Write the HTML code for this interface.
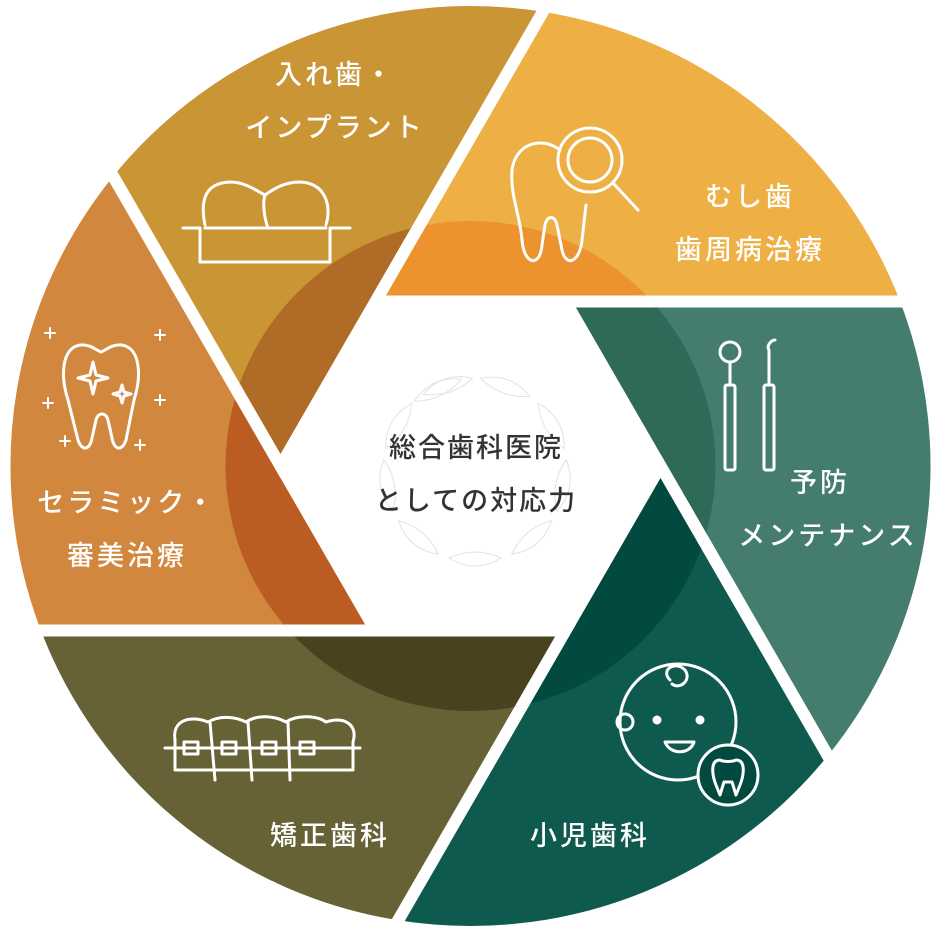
<!DOCTYPE html>
<html><head><meta charset="utf-8"><style>
html,body{margin:0;padding:0;background:#fff;width:941px;height:932px;overflow:hidden}
svg{display:block}
text{font-family:"Liberation Sans","Noto Sans CJK JP",sans-serif}
</style></head><body>
<svg width="941" height="932" viewBox="0 0 941 932" xmlns="http://www.w3.org/2000/svg">
<defs>
<clipPath id="ic"><circle cx="470.5" cy="466" r="245"/></clipPath>
</defs>
<g stroke="#fff" stroke-width="12" stroke-linejoin="miter">
<path d="M375.5 301.5 L546 6.2 A466 466 0 0 1 906.5 301.5 Z" fill="#eeaf44"/>
<path d="M565.5 301.5 L906.5 301.5 A466 466 0 0 1 831 761.3 Z" fill="#447d6d"/>
<path d="M660.5 466 L831 761.3 A466 466 0 0 1 395 925.8 Z" fill="#0f5a4f"/>
<path d="M565.5 630.5 L395 925.8 A466 466 0 0 1 34.5 630.5 Z" fill="#676236"/>
<path d="M375.5 630.5 L34.5 630.5 A466 466 0 0 1 110 170.7 Z" fill="#d1873e"/>
<path d="M280.5 466 L110 170.7 A466 466 0 0 1 546 6.2 Z" fill="#c99535"/>
</g>
<g clip-path="url(#ic)" stroke="#fff" stroke-width="12">
<path d="M375.5 301.5 L546 6.2 A466 466 0 0 1 906.5 301.5 Z" fill="#ec9330"/>
<path d="M565.5 301.5 L906.5 301.5 A466 466 0 0 1 831 761.3 Z" fill="#2f6a59"/>
<path d="M660.5 466 L831 761.3 A466 466 0 0 1 395 925.8 Z" fill="#02493f"/>
<path d="M565.5 630.5 L395 925.8 A466 466 0 0 1 34.5 630.5 Z" fill="#48421f"/>
<path d="M375.5 630.5 L34.5 630.5 A466 466 0 0 1 110 170.7 Z" fill="#bb5d22"/>
<path d="M280.5 466 L110 170.7 A466 466 0 0 1 546 6.2 Z" fill="#b06b27"/>
</g>
<!-- wreath -->
<g fill="none" stroke="#e2e2e2" stroke-width="1">
<g transform="translate(475,470)">
<path d="M-26 -88 Q0 -104 26 -88 Q0 -76 -26 -88 Z" transform="rotate(-18)"/>
<path d="M-26 -88 Q0 -104 26 -88 Q0 -76 -26 -88 Z" transform="rotate(20)"/>
<path d="M-26 -88 Q0 -104 26 -88 Q0 -76 -26 -88 Z" transform="rotate(60)"/>
<path d="M-26 -88 Q0 -104 26 -88 Q0 -76 -26 -88 Z" transform="rotate(100)"/>
<path d="M-26 -88 Q0 -104 26 -88 Q0 -76 -26 -88 Z" transform="rotate(140)"/>
<path d="M-26 -88 Q0 -104 26 -88 Q0 -76 -26 -88 Z" transform="rotate(180)"/>
<path d="M-26 -88 Q0 -104 26 -88 Q0 -76 -26 -88 Z" transform="rotate(220)"/>
<path d="M-26 -88 Q0 -104 26 -88 Q0 -76 -26 -88 Z" transform="rotate(260)"/>
<path d="M-26 -88 Q0 -104 26 -88 Q0 -76 -26 -88 Z" transform="rotate(300)"/>
<path d="M-26 -88 Q0 -104 26 -88 Q0 -76 -26 -88 Z" transform="rotate(335)"/>
</g></g>
<g fill="#333" font-size="27" text-anchor="middle" letter-spacing="2" font-weight="500">
<text x="476" y="457">総合歯科医院</text>
<text x="476" y="510">としての対応力</text>
</g>
<g fill="#fff" font-size="27" text-anchor="middle" letter-spacing="3" font-weight="500">
<text x="335" y="84">入れ歯・</text>
<text x="335" y="137">インプラント</text>
<text x="750" y="206">むし歯</text>
<text x="750" y="259">歯周病治療</text>
<text x="820" y="492">予防</text>
<text x="828" y="545">メンテナンス</text>
<text x="590" y="845">小児歯科</text>
<text x="330" y="845">矯正歯科</text>
<text x="127" y="512">セラミック・</text>
<text x="127" y="565">審美治療</text>
</g>
<!-- icons -->
<g fill="none" stroke="#fff" stroke-width="3" stroke-linecap="round" stroke-linejoin="round">
<path d="M205 225 C200 200 205 183 230 182 C245 182 255 190 265 195 C275 188 285 182 300 182 C325 183 332 205 326 225"/>
<path d="M265 195 C262 205 265 220 268 228"/>
<path d="M183 228 L200 228 L200 262 L330 262 L330 228 L350 228"/>
<path d="M205 228 L326 228"/>
<path d="M560 150 C540 135 515 145 512 170 C510 195 520 215 522 240 C524 265 540 268 542 245 L545 225 C547 215 555 215 557 225 L562 250 C566 268 580 262 582 240 L586 205"/>
<circle cx="590" cy="160" r="32"/><circle cx="590" cy="160" r="22"/>
<path d="M613 183 L638 210"/>
<rect x="725" y="385" width="10" height="85" rx="2"/><rect x="764" y="385" width="10" height="85" rx="2"/>
<path d="M730 385 L730 362"/><circle cx="730" cy="352" r="10"/>
<path d="M769 385 L769 350 C766 345 772 340 775 340"/>
<circle cx="678" cy="722" r="58"/>
<path d="M670 680 C660 670 675 660 685 670 C692 680 680 690 672 684"/>
<circle cx="657" cy="720" r="3" fill="#fff"/><circle cx="700" cy="720" r="3" fill="#fff"/>
<path d="M665 742 C670 755 690 755 694 742 Z"/>
<circle cx="625" cy="722" r="8"/>
<circle cx="728" cy="775" r="30" fill="#02493f"/>
<path d="M720 760 C710 760 712 775 716 785 L720 795 L724 782 L732 782 L736 795 L740 785 C744 775 746 760 736 760 C732 762 724 762 720 760 Z"/>
<path d="M175 740 C172 720 190 715 208 722 C222 714 238 718 246 722 C258 714 275 716 286 722 C298 714 318 716 326 722 C345 716 358 725 353 742"/>
<path d="M175 740 L175 770 L353 770 L353 742"/>
<path d="M210 722 L215 780 M248 722 L252 780 M288 722 L290 780"/>
<path d="M165 748 L360 748"/>
<rect x="184" y="742" width="14" height="12"/><rect x="222" y="742" width="14" height="12"/><rect x="262" y="742" width="14" height="12"/><rect x="300" y="742" width="14" height="12"/>
<path d="M80 345 C62 348 60 375 68 400 L78 440 C82 452 90 450 92 438 L96 420 C98 412 106 412 108 420 L112 438 C114 450 122 452 126 440 L134 400 C142 375 140 348 122 345 C112 344 106 350 101 352 C96 350 90 344 80 345 Z"/>
<path d="M93 362 L96 375 L108 378 L96 381 L93 394 L90 381 L78 378 L90 375 Z"/>
<path d="M122 385 L124 392 L131 394 L124 396 L122 403 L120 396 L113 394 L120 392 Z"/>
<path d="M50 328 v10 M45 333 h10 M160 330 v10 M155 335 h10 M48 398 v10 M43 403 h10 M160 395 v10 M155 400 h10 M65 436 v10 M60 441 h10 M140 440 v10 M135 445 h10" stroke-width="2"/>
</g>
</svg>
</body></html>
